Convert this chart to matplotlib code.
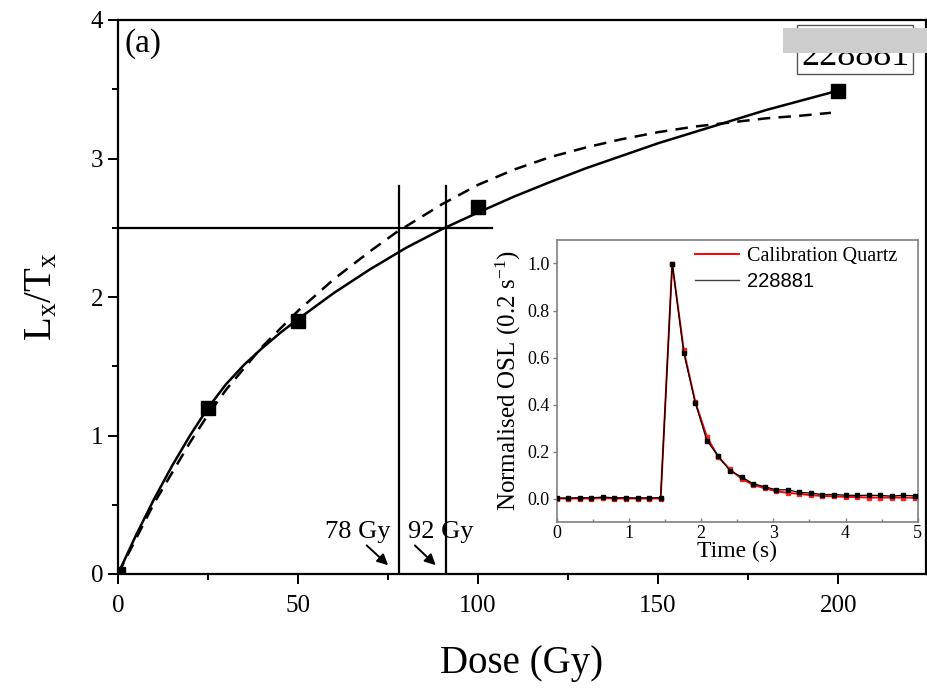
import matplotlib
matplotlib.use("Agg")
import matplotlib.pyplot as plt
from matplotlib.lines import Line2D
from matplotlib.patches import Rectangle
from matplotlib.ticker import MultipleLocator, FormatStrFormatter

plt.rcParams['font.family'] = ['Liberation Serif', 'DejaVu Serif']
plt.rcParams['mathtext.fontset'] = 'custom'
plt.rcParams['mathtext.rm'] = 'Liberation Serif'
plt.rcParams['mathtext.it'] = 'Liberation Serif:italic'

# ---- main panel data ----
dose_pts = [0, 25, 50, 100, 200]
lxtx_pts = [0.0, 1.20, 1.83, 2.65, 3.49]

solid_dose = [0, 5, 10, 15, 20, 25, 30, 35, 40, 45, 50, 60, 70, 80, 90, 100,
              110, 120, 130, 140, 150, 160, 170, 180, 190, 200]
solid_lxtx = [0.0, 0.28, 0.54, 0.78, 1.00, 1.20, 1.37, 1.51, 1.63, 1.74, 1.84,
              2.03, 2.20, 2.355, 2.49, 2.61, 2.725, 2.83, 2.93, 3.02, 3.11,
              3.19, 3.27, 3.35, 3.42, 3.49]

dash_dose = [0, 10, 20, 25, 30, 40, 50, 60, 70, 78, 80, 90, 100, 110, 120,
             130, 140, 150, 160, 170, 180, 190, 198]
dash_lxtx = [0.0, 0.51, 0.95, 1.15, 1.33, 1.64, 1.90, 2.13, 2.33, 2.48, 2.51,
             2.67, 2.81, 2.92, 3.01, 3.08, 3.14, 3.19, 3.23, 3.26, 3.29,
             3.31, 3.33]

natural_lxtx = 2.5
de_values = [78, 91]
de_labels = ['78 Gy', '92 Gy']

# ---- inset data ----
time_s = [0.00, 0.16, 0.32, 0.48, 0.64, 0.80, 0.96, 1.12, 1.28, 1.44, 1.60,
          1.76, 1.92, 2.08, 2.24, 2.40, 2.56, 2.72, 2.88, 3.04, 3.20, 3.36,
          3.52, 3.68, 3.84, 4.00, 4.16, 4.32, 4.48, 4.64, 4.80, 4.96]
calib_osl = [0.0, 0.0, 0.0, 0.0, 0.002, 0.0, 0.0, 0.0, 0.0, 0.0, 1.0,
             0.63, 0.41, 0.263, 0.175, 0.124, 0.084, 0.058, 0.044, 0.031,
             0.024, 0.020, 0.014, 0.011, 0.009, 0.007, 0.006, 0.004, 0.004,
             0.004, 0.004, 0.003]
sample_osl = [0.002, 0.002, 0.003, 0.003, 0.006, 0.003, 0.003, 0.002, 0.003,
              0.003, 1.0, 0.62, 0.407, 0.246, 0.18, 0.118, 0.092, 0.063,
              0.05, 0.037, 0.037, 0.026, 0.023, 0.017, 0.017, 0.014, 0.013,
              0.014, 0.013, 0.010, 0.014, 0.011]

fig = plt.figure(figsize=(9.28, 6.89), dpi=100)
ax = fig.add_axes([118/928, 1-574/689, (926-118)/928, (574-20)/689])

ax.plot(solid_dose, solid_lxtx, color='k', lw=1.8, zorder=3)
ax.plot(dash_dose, dash_lxtx, color='k', lw=1.8, ls=(0, (5, 3.3)), zorder=3)
ax.plot(dose_pts, lxtx_pts, ls='none', marker='s', ms=10, color='k', zorder=4)

ax.plot([0, 104], [natural_lxtx, natural_lxtx], color='k', lw=1.6)
for d in de_values:
    ax.plot([d, d], [0, 2.8], color='k', lw=1.6)

ax.annotate('', xy=(75.6, 0.05), xytext=(68.5, 0.22),
            arrowprops=dict(arrowstyle='-|>', color='k', lw=1.4, mutation_scale=16))
ax.annotate('', xy=(88.8, 0.05), xytext=(81.9, 0.22),
            arrowprops=dict(arrowstyle='-|>', color='k', lw=1.4, mutation_scale=16))
ax.text(66.5, 0.30, de_labels[0], fontsize=19, ha='center', va='center')
ax.text(89.5, 0.30, de_labels[1], fontsize=19, ha='center', va='center')

ax.set_xlim(0, 224.4)
ax.set_ylim(0, 4)
ax.xaxis.set_major_locator(MultipleLocator(50))
ax.xaxis.set_minor_locator(MultipleLocator(25))
ax.yaxis.set_major_locator(MultipleLocator(1))
ax.yaxis.set_minor_locator(MultipleLocator(0.5))
ax.tick_params(which='major', direction='out', length=7, width=1.4, labelsize=18)
ax.tick_params(axis='x', which='major', pad=8)
ax.tick_params(which='minor', direction='out', length=4, width=1.4)
for s in ax.spines.values():
    s.set_linewidth(1.6)
ax.set_xlabel('Dose (Gy)', fontsize=28, labelpad=20)
ax.set_ylabel(r'L$_\mathregular{x}$/T$_\mathregular{x}$', fontsize=28, labelpad=22)
ax.text(0.008, 0.985, '(a)', transform=ax.transAxes, fontsize=24, ha='left', va='top')

# boxed sample label + grey patch
fig.patches.append(Rectangle((797/928, 1-74/689), 116/928, 49/689,
                             transform=fig.transFigure, fill=False,
                             edgecolor='#555555', lw=1.0, zorder=5))
fig.text(856/928, 1-65/689, '228881', fontsize=26, ha='center', va='baseline', zorder=6)
fig.patches.append(Rectangle((783/928, 1-53/689), 145/928, 25/689,
                             transform=fig.transFigure, facecolor='#cdcdcd',
                             edgecolor='none', zorder=7))

# ---- inset ----
ins = fig.add_axes([556.7/928, 1-522/689, (917.7-556.7)/928, (522-240)/689])
ins.plot(time_s, calib_osl, color='#ff0000', lw=1.4, marker='s', ms=3.5,
         markerfacecolor='#ff2020', markeredgecolor='#ff2020', zorder=2)
ins.plot(time_s, sample_osl, color='k', lw=0.9, marker='s', ms=3.2, zorder=3)
ins.set_xlim(0, 5)
ins.set_ylim(-0.1, 1.1)
ins.xaxis.set_major_locator(MultipleLocator(1))
ins.xaxis.set_minor_locator(MultipleLocator(0.5))
ins.yaxis.set_major_locator(MultipleLocator(0.2))
ins.yaxis.set_major_formatter(FormatStrFormatter('%.1f'))
ins.tick_params(axis='x', which='major', direction='in', length=3, width=1,
                labelsize=13, color='#808080', pad=2)
ins.tick_params(axis='x', which='minor', direction='in', length=2, width=1, color='#808080')
ins.tick_params(axis='y', which='major', direction='out', length=3, width=1,
                labelsize=13, color='#808080', pad=2)
for s in ins.spines.values():
    s.set_color('#808080')
    s.set_linewidth(1.2)
ins.set_xlabel('Time (s)', fontsize=17, labelpad=-1)
ins.set_ylabel(r'Normalised OSL (0.2 s$^\mathregular{-1}$)', fontsize=18, labelpad=3)

handles = [Line2D([], [], color='#ff0000', lw=1.4), Line2D([], [], color='#444444', lw=1.0)]
leg = ins.legend(handles, ['Calibration Quartz', '228881'], loc='upper left',
                 bbox_to_anchor=(0.36, 1.005), frameon=False, fontsize=14.5,
                 handlelength=2.2, handletextpad=0.4, labelspacing=0.3, borderaxespad=0)
leg.get_texts()[1].set_fontfamily('Liberation Sans')

fig.savefig('out.png', dpi=100)
